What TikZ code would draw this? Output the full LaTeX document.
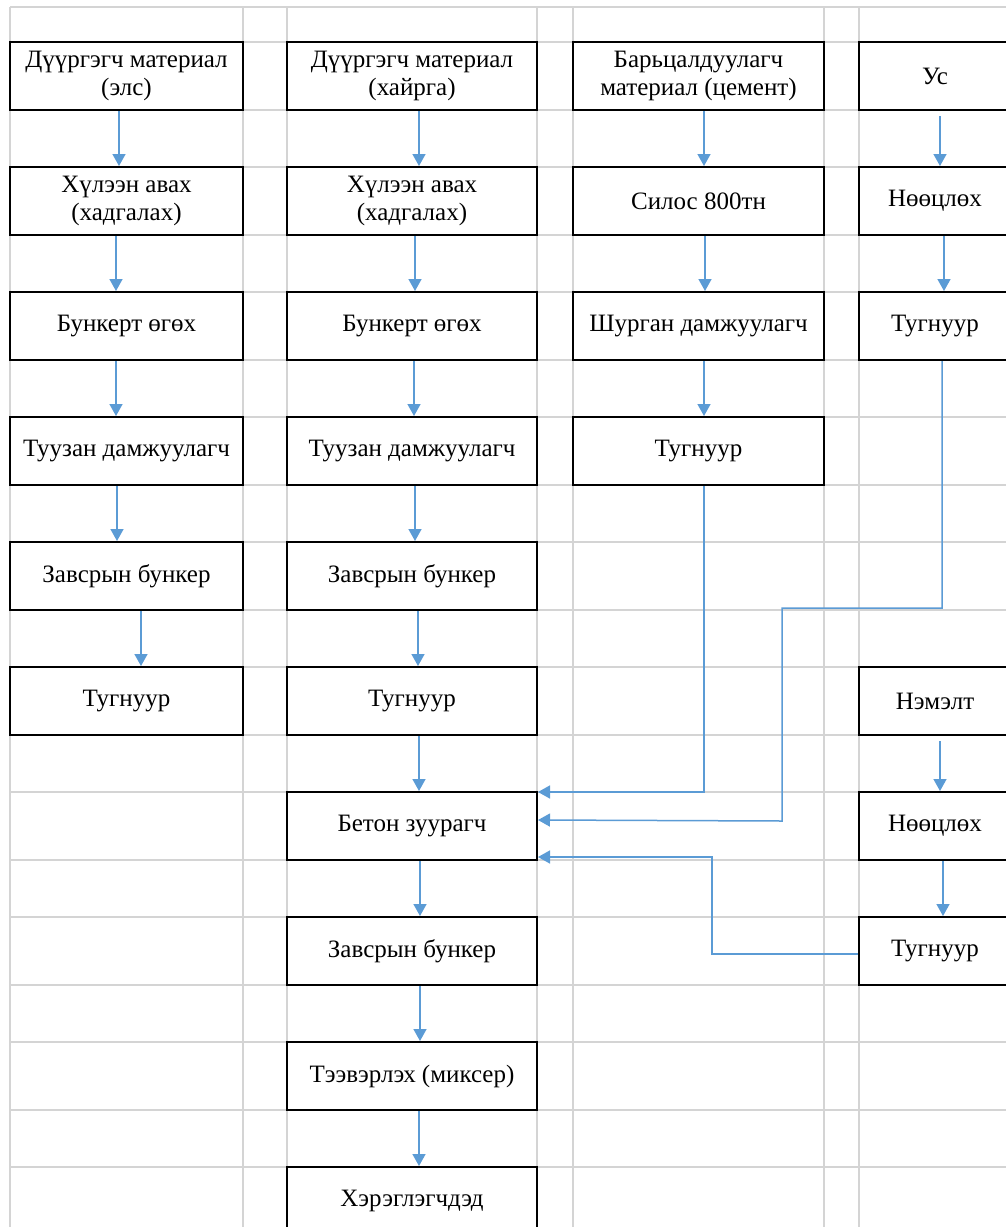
\documentclass[tikz,border=0pt]{standalone}
\usepackage{fontspec}
\setmainfont{Liberation Serif}
\usetikzlibrary{arrows.meta}
\definecolor{gridgray}{HTML}{D4D4D4}
\definecolor{flowblue}{HTML}{5B9BD5}

\begin{document}
\begin{tikzpicture}[
    x=1pt, y=-1pt,
    cell/.style={draw=gridgray, line width=1.3pt},
    stage/.style={draw=black, line width=2pt, fill=white, align=center,
        minimum height=68pt, inner sep=0pt,
        font=\fontsize{25pt}{28pt}\selectfont},
    colA/.style={stage, minimum width=233pt},
    colC/.style={stage, minimum width=250pt},
    colE/.style={stage, minimum width=251pt},
    colG/.style={stage, minimum width=152pt},
    arrow/.style={-{Triangle[length=12pt,width=13pt]}, draw=flowblue, line width=1.5pt}
]

\clip (0,0) rectangle (1006,1227);
\fill[white] (0,0) rectangle (1006,1227);

% spreadsheet grid
\foreach \x in {10,243,287,537,573,824,859}
    \draw[cell] (\x,7) -- (\x,1227);
\draw[cell] (10,7) -- (1006,7);
\foreach \i in {0,...,9} {
    \draw[cell] (10,42+125*\i) -- (1006,42+125*\i);
    \draw[cell] (10,110+125*\i) -- (1006,110+125*\i);
}

% sand
\node[colA] (S1) at (126.5,76) {Дүүргэгч материал\\(элс)};
\node[colA] (S2) at (126.5,201) {Хүлээн авах\\(хадгалах)};
\node[colA] (S3) at (126.5,326) {Бункерт өгөх};
\node[colA] (S4) at (126.5,451) {Туузан дамжуулагч};
\node[colA] (S5) at (126.5,576) {Завсрын бункер};
\node[colA] (S6) at (126.5,701) {Тугнуур};

% gravel
\node[colC] (H1) at (412,76) {Дүүргэгч материал\\(хайрга)};
\node[colC] (H2) at (412,201) {Хүлээн авах\\(хадгалах)};
\node[colC] (H3) at (412,326) {Бункерт өгөх};
\node[colC] (H4) at (412,451) {Туузан дамжуулагч};
\node[colC] (H5) at (412,576) {Завсрын бункер};
\node[colC] (H6) at (412,701) {Тугнуур};
\node[colC] (H7) at (412,826) {Бетон зуурагч};
\node[colC] (H8) at (412,951) {Завсрын бункер};
\node[colC] (H9) at (412,1076) {Тээвэрлэх (миксер)};
\node[colC] (H10) at (412,1201) {Хэрэглэгчдэд};

% cement
\node[colE] (C1) at (698.5,76) {Барьцалдуулагч\\материал (цемент)};
\node[colE] (C2) at (698.5,201) {Силос 800тн};
\node[colE] (C3) at (698.5,326) {Шурган дамжуулагч};
\node[colE] (C4) at (698.5,451) {Тугнуур};

% water and additive
\node[colG] (W1) at (935,76) {Ус};
\node[colG] (W2) at (935,201) {Нөөцлөх};
\node[colG] (W3) at (935,326) {Тугнуур};
\node[colG] (D1) at (935,701) {Нэмэлт};
\node[colG] (D2) at (935,826) {Нөөцлөх};
\node[colG] (D3) at (935,951) {Тугнуур};

\draw[arrow] ([xshift=-7.5pt]S1.south) -- ([xshift=-7.5pt]S2.north);
\draw[arrow] ([xshift=-10.5pt]S2.south) -- ([xshift=-10.5pt]S3.north);
\draw[arrow] ([xshift=-10.5pt]S3.south) -- ([xshift=-10.5pt]S4.north);
\draw[arrow] ([xshift=-9.5pt]S4.south) -- ([xshift=-9.5pt]S5.north);
\draw[arrow] ([xshift=14.5pt]S5.south) -- ([xshift=14.5pt]S6.north);

\draw[arrow] ([xshift=7pt]H1.south) -- ([xshift=7pt]H2.north);
\draw[arrow] ([xshift=3pt]H2.south) -- ([xshift=3pt]H3.north);
\draw[arrow] ([xshift=2pt]H3.south) -- ([xshift=2pt]H4.north);
\draw[arrow] ([xshift=3pt]H4.south) -- ([xshift=3pt]H5.north);
\draw[arrow] ([xshift=6pt]H5.south) -- ([xshift=6pt]H6.north);
\draw[arrow] ([xshift=7pt]H6.south) -- ([xshift=7pt]H7.north);
\draw[arrow] ([xshift=8pt]H7.south) -- ([xshift=8pt]H8.north);
\draw[arrow] ([xshift=8pt]H8.south) -- ([xshift=8pt]H9.north);
\draw[arrow] ([xshift=7pt]H9.south) -- ([xshift=7pt]H10.north);

\draw[arrow] ([xshift=5.5pt]C1.south) -- ([xshift=5.5pt]C2.north);
\draw[arrow] ([xshift=6.5pt]C2.south) -- ([xshift=6.5pt]C3.north);
\draw[arrow] ([xshift=5.5pt]C3.south) -- ([xshift=5.5pt]C4.north);

\draw[arrow] ([xshift=5pt,yshift=-5pt]W1.south) -- ([xshift=5pt]W2.north);
\draw[arrow] ([xshift=9pt]W2.south) -- ([xshift=9pt]W3.north);
\draw[arrow] ([xshift=5pt,yshift=-5pt]D1.south) -- ([xshift=5pt]D2.north);
\draw[arrow] ([xshift=8pt]D2.south) -- ([xshift=8pt]D3.north);

\draw[arrow] ([xshift=5.5pt]C4.south) |- ([yshift=-1pt]H7.north east);
\draw[arrow] ([xshift=7pt]W3.south) -- ++(0,247) -| ++(-160,213) -- ([yshift=6pt]H7.east);
\draw[arrow] ([yshift=-3pt]D3.west) -- ++(-146,0) |- ([yshift=-31pt]H7.east);

\end{tikzpicture}
\end{document}
